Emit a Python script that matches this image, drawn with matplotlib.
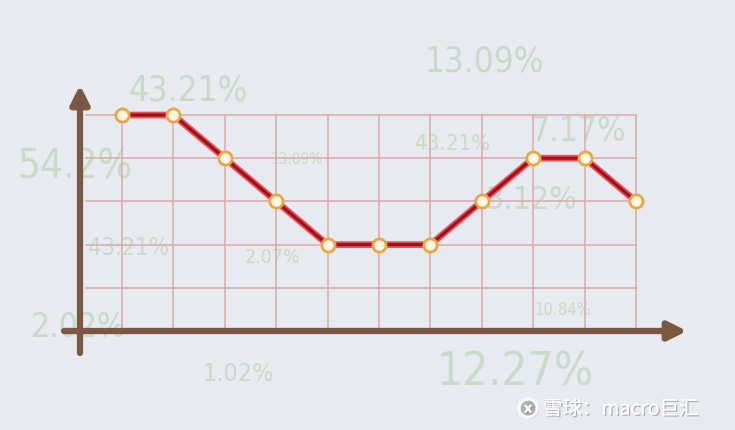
import matplotlib
matplotlib.use("Agg")
import matplotlib.pyplot as plt
import matplotlib.patheffects as pe

# ---- data ----
x_index = [0, 1, 2, 3, 4, 5, 6, 7, 8, 9, 10]
levels = [5, 5, 4, 3, 2, 2, 2, 3, 4, 4, 3]
n_rows = 5

# decorative background labels
deco_texts = ["13.09%", "43.21%", "54.2%", "13.09%", "43.21%", "7.17%",
              "3.12%", "43.21%", "2.07%", "10.84%", "2.02%", "1.02%", "12.27%"]
deco_x = [7.05, 1.28, -0.92, 3.4, 6.42, 8.87, 7.97, 0.12, 2.92, 8.58, -0.85, 2.26, 7.65]
deco_y = [6.25, 5.6, 3.8, 4.0, 4.35, 4.65, 3.05, 1.95, 1.72, 0.5, 0.1, -0.98, -0.95]
deco_size = [25, 25, 29, 11, 16, 24, 23, 17, 14, 12, 24, 18, 33]

W, H = 735, 431
fig = plt.figure(figsize=(W / 100, H / 100), dpi=100)
bg = "#e7eaf0"
fig.patch.set_facecolor(bg)
ax = fig.add_axes([0, 0, 1, 1])
ax.set_facecolor(bg)

# pixel mapping (layout)
x0_px, dx_px = 122, 51.4
y0_px, dy_px = 332, 43.2
def px_x(p):
    return (p - x0_px) / dx_px
def px_y(p):
    return (y0_px - p) / dy_px

ax.set_xlim(px_x(0), px_x(W))
ax.set_ylim(px_y(H), px_y(0))
ax.axis("off")

# decorative faint labels
for t, xx, yy, fs in zip(deco_texts, deco_x, deco_y, deco_size):
    ax.text(xx, yy, t, ha="center", va="center", fontsize=fs,
            color="#c9dac9", family=["DejaVu Sans"], fontstretch="condensed",
            zorder=0)

# grid
grid_c = "#dcaaa8"
left = px_x(86)
for r in range(1, n_rows + 1):
    ax.plot([left, x_index[-1]], [r, r], color=grid_c, lw=1.1, zorder=1)
for i in x_index:
    ax.plot([i, i], [0, n_rows], color=grid_c, lw=1.1, zorder=1)

# axes arrows
brown = "#7b5843"
ax.annotate("", xy=(px_x(80), px_y(86)), xytext=(px_x(80), px_y(354)),
            arrowprops=dict(arrowstyle="-|>,head_length=1.1,head_width=0.55",
                            color=brown, lw=4.5, shrinkA=0, shrinkB=0), zorder=3)
ax.annotate("", xy=(px_x(687), 0), xytext=(px_x(64), 0),
            arrowprops=dict(arrowstyle="-|>,head_length=1.1,head_width=0.55",
                            color=brown, lw=4.5, shrinkA=0, shrinkB=0), zorder=3)

# data line
ax.plot(x_index, levels, color="#e8505a", lw=4.8, solid_capstyle="round", zorder=4)
ax.plot(x_index, levels, color="#9e0f18", lw=2.2, solid_capstyle="round", zorder=5)
ax.plot(x_index, levels, linestyle="none", marker="o", markersize=9.5,
        markerfacecolor="#fff7e0", markeredgecolor="#e9a648",
        markeredgewidth=2.0, zorder=6)

# watermark
shadow = [pe.withSimplePatchShadow(offset=(1, -1), shadow_rgbFace="#8a8a8a", alpha=0.6),
          pe.Normal()]
logo = ax.plot([px_x(528)], [px_y(409)], marker="o", markersize=13,
               markerfacecolor="none", markeredgecolor="white",
               markeredgewidth=1.8, zorder=7)[0]
logo.set_path_effects(shadow)
ax.text(px_x(528), px_y(409.5), "x", ha="center", va="center", fontsize=10,
        color="white", family=["DejaVu Sans"], fontweight="bold", zorder=7,
        path_effects=shadow)
ax.text(px_x(543), px_y(410), "雪球：macro巨汇", ha="left", va="center",
        fontsize=14, color="white",
        family=["Noto Sans CJK SC", "DejaVu Sans"], zorder=7,
        path_effects=shadow)

fig.savefig("out.png", dpi=100, facecolor=bg)
